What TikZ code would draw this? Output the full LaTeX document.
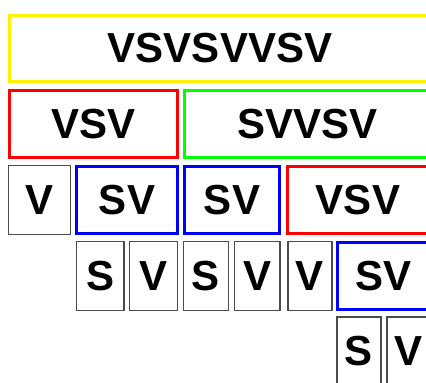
\documentclass[tikz,border=0pt]{standalone}
\usepackage{fontspec}
\setmainfont{Liberation Sans}
\begin{document}
\begin{tikzpicture}[x=1pt,y=-1pt,
  cell/.style={draw, rectangle, inner sep=0pt, outer sep=0pt, anchor=north west,
    font=\fontsize{42}{48}\selectfont\bfseries},
  leaf/.style={cell, draw=black!70, line width=1.2pt},
  colbox/.style={cell, line width=3pt, draw=#1},
]
\useasboundingbox (0,0) rectangle (426,383);
\clip (0,0) rectangle (426,383);
% box from (x1,y1) with width w and height h
\newcommand{\cellat}[7]{%
  \node[#1, minimum width=#5pt, minimum height=#6pt] (#2) at (#3,#4) {#7};}
% row 1
\cellat{colbox=yellow}{r1}{9.5}{15.5}{421}{66}{VSVSVVSV}
% row 2
\cellat{colbox=red}{r2a}{9.5}{90.5}{168}{67}{VSV}
\cellat{colbox=green}{r2b}{184.5}{90.5}{246}{67}{SVVSV}
% row 3
\cellat{leaf}{r3a}{8.5}{165.5}{62}{69}{V}
\cellat{colbox=blue}{r3b}{76.5}{166.5}{101}{67}{SV}
\cellat{colbox=blue}{r3c}{184.5}{166.5}{95}{67}{SV}
\cellat{colbox=red}{r3d}{287.5}{166.5}{141}{67}{VSV}
% row 4
\cellat{leaf}{r4a}{76.5}{241.5}{47.5}{69}{S}
\cellat{leaf}{r4b}{129.5}{241.5}{48}{69}{V}
\cellat{leaf}{r4c}{183.5}{241.5}{45}{69}{S}
\cellat{leaf}{r4d}{234.5}{241.5}{45.5}{69}{V}
\cellat{leaf}{r4e}{288}{241.5}{44}{69}{V}
\cellat{colbox=blue}{r4f}{337.5}{242.5}{92}{67}{SV}
% row 5
\cellat{leaf}{r5a}{337}{317}{44}{69}{S}
\cellat{leaf}{r5b}{387}{317}{44}{69}{V}
\end{tikzpicture}
\end{document}
